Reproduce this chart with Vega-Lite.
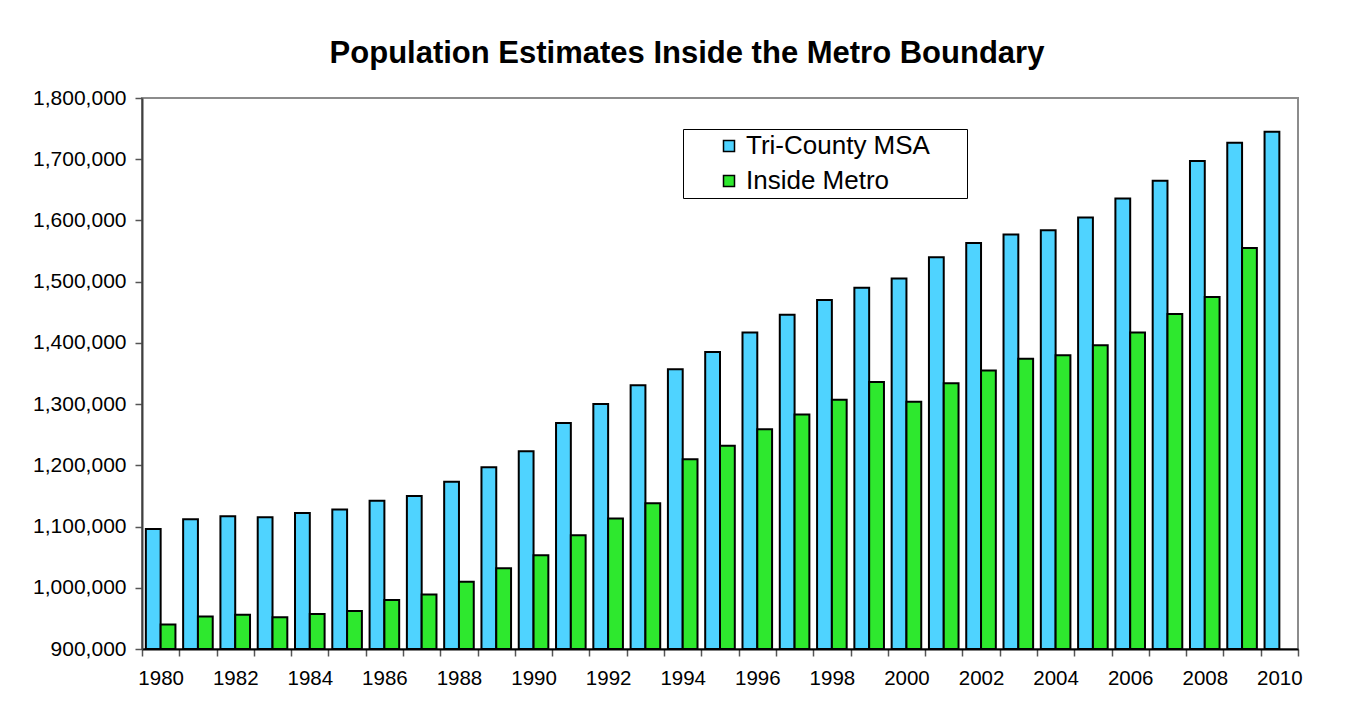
{
  "$schema": "https://vega.github.io/schema/vega-lite/v6.json",
  "autosize": "none",
  "width": 1156,
  "height": 551,
  "padding": {"left": 142, "top": 98, "right": 51, "bottom": 74},
  "background": "white",
  "title": {
    "text": "Population Estimates Inside the Metro Boundary",
    "font": "Liberation Sans",
    "fontSize": 31,
    "fontWeight": "bold",
    "color": "black",
    "anchor": "middle",
    "frame": "group",
    "dx": -33,
    "baseline": "alphabetic",
    "offset": -7
  },
  "config": {
    "view": {"stroke": "#8c8c8c", "strokeWidth": 2},
    "font": "Liberation Sans"
  },
  "data": {
    "values": [
      {"year": 1980, "series": "Tri-County MSA", "value": 1096000},
      {"year": 1981, "series": "Tri-County MSA", "value": 1112000},
      {"year": 1982, "series": "Tri-County MSA", "value": 1117000},
      {"year": 1983, "series": "Tri-County MSA", "value": 1115000},
      {"year": 1984, "series": "Tri-County MSA", "value": 1122000},
      {"year": 1985, "series": "Tri-County MSA", "value": 1128000},
      {"year": 1986, "series": "Tri-County MSA", "value": 1142000},
      {"year": 1987, "series": "Tri-County MSA", "value": 1150000},
      {"year": 1988, "series": "Tri-County MSA", "value": 1173000},
      {"year": 1989, "series": "Tri-County MSA", "value": 1197000},
      {"year": 1990, "series": "Tri-County MSA", "value": 1223000},
      {"year": 1991, "series": "Tri-County MSA", "value": 1269000},
      {"year": 1992, "series": "Tri-County MSA", "value": 1300000},
      {"year": 1993, "series": "Tri-County MSA", "value": 1331000},
      {"year": 1994, "series": "Tri-County MSA", "value": 1357000},
      {"year": 1995, "series": "Tri-County MSA", "value": 1385000},
      {"year": 1996, "series": "Tri-County MSA", "value": 1417000},
      {"year": 1997, "series": "Tri-County MSA", "value": 1446000},
      {"year": 1998, "series": "Tri-County MSA", "value": 1470000},
      {"year": 1999, "series": "Tri-County MSA", "value": 1490000},
      {"year": 2000, "series": "Tri-County MSA", "value": 1505000},
      {"year": 2001, "series": "Tri-County MSA", "value": 1540000},
      {"year": 2002, "series": "Tri-County MSA", "value": 1563000},
      {"year": 2003, "series": "Tri-County MSA", "value": 1577000},
      {"year": 2004, "series": "Tri-County MSA", "value": 1584000},
      {"year": 2005, "series": "Tri-County MSA", "value": 1605000},
      {"year": 2006, "series": "Tri-County MSA", "value": 1636000},
      {"year": 2007, "series": "Tri-County MSA", "value": 1665000},
      {"year": 2008, "series": "Tri-County MSA", "value": 1697000},
      {"year": 2009, "series": "Tri-County MSA", "value": 1727000},
      {"year": 2010, "series": "Tri-County MSA", "value": 1745000},
      {"year": 1980, "series": "Inside Metro", "value": 940000},
      {"year": 1981, "series": "Inside Metro", "value": 953000},
      {"year": 1982, "series": "Inside Metro", "value": 956000},
      {"year": 1983, "series": "Inside Metro", "value": 952000},
      {"year": 1984, "series": "Inside Metro", "value": 957000},
      {"year": 1985, "series": "Inside Metro", "value": 962000},
      {"year": 1986, "series": "Inside Metro", "value": 980000},
      {"year": 1987, "series": "Inside Metro", "value": 989000},
      {"year": 1988, "series": "Inside Metro", "value": 1010000},
      {"year": 1989, "series": "Inside Metro", "value": 1032000},
      {"year": 1990, "series": "Inside Metro", "value": 1053000},
      {"year": 1991, "series": "Inside Metro", "value": 1086000},
      {"year": 1992, "series": "Inside Metro", "value": 1113000},
      {"year": 1993, "series": "Inside Metro", "value": 1138000},
      {"year": 1994, "series": "Inside Metro", "value": 1210000},
      {"year": 1995, "series": "Inside Metro", "value": 1232000},
      {"year": 1996, "series": "Inside Metro", "value": 1259000},
      {"year": 1997, "series": "Inside Metro", "value": 1283000},
      {"year": 1998, "series": "Inside Metro", "value": 1307000},
      {"year": 1999, "series": "Inside Metro", "value": 1336000},
      {"year": 2000, "series": "Inside Metro", "value": 1304000},
      {"year": 2001, "series": "Inside Metro", "value": 1334000},
      {"year": 2002, "series": "Inside Metro", "value": 1355000},
      {"year": 2003, "series": "Inside Metro", "value": 1374000},
      {"year": 2004, "series": "Inside Metro", "value": 1380000},
      {"year": 2005, "series": "Inside Metro", "value": 1396000},
      {"year": 2006, "series": "Inside Metro", "value": 1417000},
      {"year": 2007, "series": "Inside Metro", "value": 1447000},
      {"year": 2008, "series": "Inside Metro", "value": 1475000},
      {"year": 2009, "series": "Inside Metro", "value": 1555000}
    ]
  },
  "mark": {"type": "bar", "stroke": "black", "strokeWidth": 2, "opacity": 1},
  "encoding": {
    "x": {
      "field": "year",
      "type": "ordinal",
      "scale": {"paddingInner": 0, "paddingOuter": 0},
      "axis": {
        "title": null,
        "labelAngle": 0,
        "labelFont": "Liberation Sans",
        "labelFontSize": 20.5,
        "labelColor": "black",
        "labelPadding": 12,
        "labelOverlap": false,
        "labelExpr": "datum.value % 2 == 0 ? datum.label : ''",
        "tickBand": "extent",
        "tickSize": 7,
        "tickColor": "#555555",
        "tickWidth": 1.5,
        "domainColor": "black",
        "domainWidth": 2,
        "zindex": 1
      }
    },
    "xOffset": {
      "field": "series",
      "type": "nominal",
      "scale": {"domain": ["Tri-County MSA", "Inside Metro"], "paddingInner": 0, "paddingOuter": 0.26}
    },
    "y": {
      "field": "value",
      "type": "quantitative",
      "scale": {"domain": [900000, 1800000], "nice": false, "zero": false},
      "axis": {
        "title": null,
        "values": [900000, 1000000, 1100000, 1200000, 1300000, 1400000, 1500000, 1600000, 1700000, 1800000],
        "format": ",d",
        "grid": false,
        "labelFont": "Liberation Sans",
        "labelFontSize": 21,
        "labelColor": "black",
        "labelPadding": 9,
        "tickSize": 7,
        "tickColor": "#555555",
        "tickWidth": 1.5,
        "domainColor": "#404040",
        "domainWidth": 2,
        "zindex": 1
      }
    },
    "y2": {"datum": 900000},
    "color": {
      "field": "series",
      "type": "nominal",
      "scale": {"domain": ["Tri-County MSA", "Inside Metro"], "range": ["#4fd3ff", "#2ee82e"]},
      "legend": {
        "orient": "none",
        "legendX": 541,
        "legendY": 31,
        "title": " ",
        "titleOrient": "right",
        "titleFontSize": 1,
        "titlePadding": 33,
        "padding": 4,
        "strokeColor": "black",
        "fillColor": "white",
        "symbolType": "square",
        "symbolSize": 121,
        "symbolStrokeColor": "black",
        "symbolStrokeWidth": 1.5,
        "symbolOpacity": 1,
        "symbolOffset": 29,
        "labelFont": "Liberation Sans",
        "labelFontSize": 26,
        "labelColor": "black",
        "labelOffset": 4,
        "rowPadding": 9,
        "labelLimit": 400
      }
    }
  }
}
